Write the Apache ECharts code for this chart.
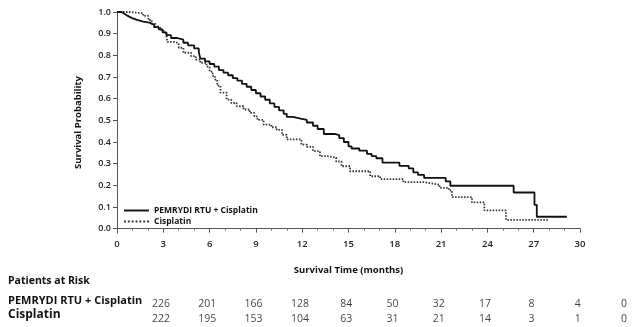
<!DOCTYPE html>
<html>
<head>
<meta charset="utf-8">
<script src="https://cdn.jsdelivr.net/npm/echarts@6/dist/echarts.min.js"></script>
<style>html,body{margin:0;padding:0;background:#fff}#c{width:632px;height:327px}</style>
</head>
<body>
<div id="c"></div>
<script>
var seriesNames = ['PEMRYDI RTU + Cisplatin', 'Cisplatin'];
var xTicks = [0, 3, 6, 9, 12, 15, 18, 21, 24, 27, 30];
var yTicks = [0, 0.1, 0.2, 0.3, 0.4, 0.5, 0.6, 0.7, 0.8, 0.9, 1.0];
var pemrydiKM = [[0,1],[0.3,0.991],[0.5,0.982],[0.7,0.973],[0.95,0.964],[1.3,0.956],[1.7,0.951],[2.1,0.942],[2.4,0.93],[2.7,0.92],[2.95,0.906],[3.2,0.893],[3.5,0.88],[3.9,0.872],[4.3,0.858],[4.6,0.846],[5.0,0.832],[5.3,0.815],[5.4,0.785],[5.7,0.772],[6.0,0.76],[6.3,0.748],[6.6,0.732],[6.9,0.72],[7.2,0.708],[7.5,0.695],[7.8,0.683],[8.1,0.668],[8.4,0.655],[8.7,0.64],[9.0,0.625],[9.3,0.61],[9.6,0.595],[9.9,0.578],[10.2,0.562],[10.5,0.546],[10.8,0.53],[11.0,0.516],[11.4,0.508],[11.9,0.502],[12.3,0.49],[12.7,0.475],[13.0,0.46],[13.4,0.437],[14.1,0.432],[14.4,0.418],[14.7,0.40],[15.0,0.38],[15.2,0.37],[15.7,0.36],[16.2,0.345],[16.5,0.335],[16.8,0.325],[17.2,0.305],[18.3,0.29],[18.9,0.278],[19.2,0.26],[19.5,0.248],[19.9,0.234],[21.3,0.218],[21.6,0.198],[25.7,0.167],[27.05,0.11],[27.2,0.055],[29.15,0.055]];
var cisplatinKM = [[0,1],[0.8,0.994],[1.7,0.982],[2.03,0.963],[2.25,0.945],[2.5,0.932],[2.8,0.918],[3.0,0.906],[3.2,0.894],[3.26,0.862],[3.75,0.855],[4.0,0.835],[4.3,0.812],[4.8,0.796],[5.1,0.78],[5.4,0.765],[5.8,0.748],[6.0,0.725],[6.2,0.705],[6.35,0.688],[6.5,0.66],[6.7,0.628],[7.1,0.596],[7.4,0.58],[7.75,0.565],[8.2,0.55],[8.6,0.534],[8.9,0.518],[9.1,0.502],[9.5,0.48],[10.0,0.468],[10.35,0.456],[10.7,0.433],[11.0,0.412],[11.95,0.388],[12.3,0.378],[12.7,0.358],[13.15,0.335],[13.6,0.328],[14.2,0.31],[14.55,0.288],[15.1,0.265],[16.4,0.242],[17.05,0.229],[18.55,0.215],[19.85,0.21],[20.3,0.203],[20.9,0.188],[21.5,0.177],[21.7,0.146],[23.0,0.121],[23.8,0.084],[25.2,0.041],[27.95,0.041]];
var riskTimes = [0, 3, 6, 9, 12, 15, 18, 21, 24, 27, 30];
var riskPemrydi = [226, 201, 166, 128, 84, 50, 32, 17, 8, 4, 0];
var riskCisplatin = [222, 195, 153, 104, 63, 31, 21, 14, 3, 1, 0];

var FONT = 'Open Sans';
var chart = echarts.init(document.getElementById('c'), null, {renderer: 'canvas'});

function riskData(vals, row) {
  return riskTimes.map(function (t, i) { return [t, row, vals[i]]; });
}

var dottedIcon = 'path://M0,0h2v2h-2z M4,0h2v2h-2z M8,0h2v2h-2z M12,0h2v2h-2z M16,0h2v2h-2z M20,0h2v2h-2z M24,0h2v2h-2z';
var solidIcon = 'path://M0,0H26V2H0Z';

var option = {
  animation: false,
  textStyle: {fontFamily: FONT},
  grid: [
    {left: 117, right: 52, top: 12, bottom: 94},
    {left: 161, right: 8, top: 297, height: 30}
  ],
  legend: {
    data: [
      {name: seriesNames[0], icon: solidIcon, itemStyle: {color: '#111'}},
      {name: seriesNames[1], icon: dottedIcon, itemStyle: {color: '#333'}}
    ],
    orient: 'vertical',
    left: 124,
    top: 205,
    padding: 0,
    itemWidth: 25,
    itemHeight: 2,
    itemGap: 0,
    textStyle: {fontFamily: FONT, fontSize: 8.5, fontWeight: 700, color: '#111', lineHeight: 11}
  },
  xAxis: [
    {
      type: 'value', gridIndex: 0, min: 0, max: 30, interval: 3,
      name: 'Survival Time (months)', nameLocation: 'middle', nameGap: 32,
      nameTextStyle: {fontFamily: FONT, fontSize: 9.5, fontWeight: 700, color: '#111'},
      axisLine: {show: true, lineStyle: {color: '#555', width: 1}},
      axisTick: {show: true, length: 4, lineStyle: {color: '#555'}},
      minorTick: {show: true, splitNumber: 3, length: 2, lineStyle: {color: '#777'}},
      axisLabel: {fontFamily: FONT, fontSize: 9.5, fontWeight: 600, color: '#222', margin: 6,
        customValues: xTicks},
      splitLine: {show: false}
    },
    {type: 'value', gridIndex: 1, min: 0, max: 30, show: false}
  ],
  yAxis: [
    {
      type: 'value', gridIndex: 0, min: -0.02, max: 1.0,
      name: 'Survival Probability', nameLocation: 'middle', nameGap: 34, nameRotate: 90,
      nameTextStyle: {fontFamily: FONT, fontSize: 9.5, fontWeight: 700, color: '#111'},
      axisLine: {show: true, lineStyle: {color: '#555', width: 1}},
      axisTick: {show: true, length: 4, lineStyle: {color: '#555'}, customValues: yTicks},
      axisLabel: {fontFamily: FONT, fontSize: 9, fontWeight: 600, color: '#222', margin: 6,
        customValues: yTicks,
        formatter: function (v) { return v.toFixed(1); }},
      splitLine: {show: false}
    },
    {type: 'category', gridIndex: 1, data: seriesNames, inverse: true, show: false}
  ],
  series: [
    {
      name: seriesNames[0], type: 'line', step: 'end', xAxisIndex: 0, yAxisIndex: 0,
      data: pemrydiKM, symbol: 'none', color: '#111',
      lineStyle: {color: '#111', width: 1.8, type: 'solid'}, z: 3
    },
    {
      name: seriesNames[1], type: 'line', step: 'end', xAxisIndex: 0, yAxisIndex: 0,
      data: cisplatinKM, symbol: 'none', color: '#333',
      lineStyle: {color: '#333', width: 1.8, type: [1.5, 1.5]}, z: 2
    },
    {
      name: 'risk1', type: 'scatter', xAxisIndex: 1, yAxisIndex: 1,
      data: riskData(riskPemrydi, seriesNames[0]), symbolSize: 0,
      encode: {x: 0, y: 1},
      label: {show: true, position: 'inside', fontFamily: FONT, fontSize: 10.5, color: '#111',
        formatter: function (p) { return String(p.data[2]); }},
      silent: true
    },
    {
      name: 'risk2', type: 'scatter', xAxisIndex: 1, yAxisIndex: 1,
      data: riskData(riskCisplatin, seriesNames[1]), symbolSize: 0,
      encode: {x: 0, y: 1},
      label: {show: true, position: 'inside', fontFamily: FONT, fontSize: 10.5, color: '#111',
        formatter: function (p) { return String(p.data[2]); }},
      silent: true
    }
  ],
  graphic: [
    {type: 'text', left: 8, top: 276, style: {text: 'Patients at Risk', font: '700 10.5px "Open Sans"', fill: '#111'}},
    {type: 'text', left: 8, top: 295.5, style: {text: seriesNames[0], font: '700 11px "Open Sans"', fill: '#111'}},
    {type: 'text', left: 8, top: 309, style: {text: seriesNames[1], font: '700 12px "Open Sans"', fill: '#111'}}
  ]
};
chart.setOption(option);
</script>
</body>
</html>
